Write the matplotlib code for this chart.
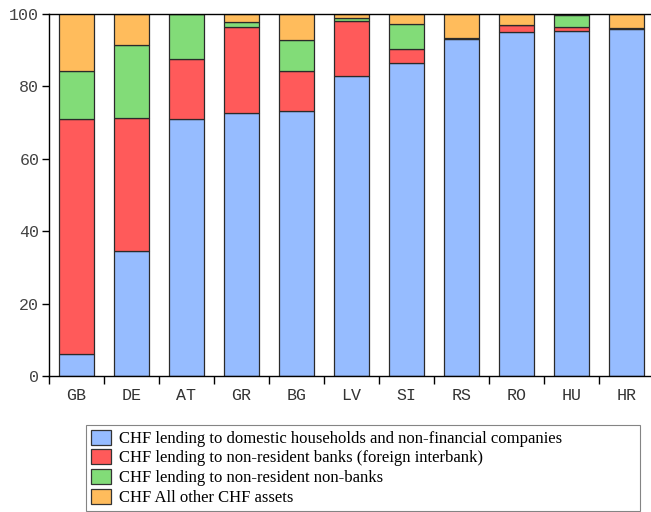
import matplotlib
matplotlib.use("Agg")
import matplotlib.pyplot as plt
import numpy as np
from matplotlib.patches import Patch

countries = ["GB", "DE", "AT", "GR", "BG", "LV", "SI", "RS", "RO", "HU", "HR"]
domestic = [6.1, 34.5, 71.0, 72.6, 73.2, 83.0, 86.6, 93.1, 95.0, 95.3, 95.9]
nonres_banks = [64.8, 36.8, 16.5, 23.9, 11.1, 15.2, 3.6, 0.2, 1.9, 1.2, 0.1]
nonres_nonbanks = [13.4, 20.1, 12.5, 1.3, 8.4, 0.8, 6.9, 0.1, 0.1, 3.1, 0.1]
other = [16.2, 8.6, 0.0, 2.2, 7.3, 1.0, 2.9, 6.6, 3.0, 0.4, 3.9]

labels = [
    "CHF lending to domestic households and non-financial companies",
    "CHF lending to non-resident banks (foreign interbank)",
    "CHF lending to non-resident non-banks",
    "CHF All other CHF assets",
]
colors = ["#96BCFF", "#FF5A5A", "#82DC78", "#FFBC5C"]

fig = plt.figure(figsize=(6.51, 5.12), dpi=100)
ax = fig.add_axes([49 / 651, 1 - 376 / 512, (651 - 49) / 651, (376 - 14) / 512])

x = np.arange(len(countries))
series = [domestic, nonres_banks, nonres_nonbanks, other]
bottom = np.zeros(len(countries))
for vals, c in zip(series, colors):
    v = np.array(vals)
    ax.bar(x, v, bottom=bottom, width=0.63, color=c, edgecolor="#2a2a2a", linewidth=0.9)
    bottom += v

ax.set_ylim(0, 100)
ax.set_xlim(-0.5, 10.45)
ax.set_yticks([0, 20, 40, 60, 80, 100])
ax.set_yticklabels(["0", "20", "40", "60", "80", "100"], family="Liberation Mono", fontsize=12, color="#444444")
ax.set_xticks(np.arange(-0.5, 10.0, 1.0))
ax.set_xticklabels([])
ax.set_xticks(x, minor=True)
ax.set_xticklabels(countries, minor=True, family="Liberation Mono", fontsize=12, color="#333333")
ax.tick_params(axis="x", which="minor", length=0, pad=9)
ax.tick_params(axis="x", which="major", length=6, width=1, direction="out")
ax.tick_params(axis="y", length=5, width=1, direction="out", pad=2)
ax.spines["right"].set_visible(False)
for s in ["left", "bottom", "top"]:
    ax.spines[s].set_linewidth(1.0)

handles = [Patch(facecolor=c, edgecolor="#333333", linewidth=0.9) for c in colors]
leg = fig.legend(handles, labels, loc="upper left",
                 bbox_to_anchor=(86 / 651, 1 - 425 / 512, (640 - 86) / 651, 0.0),
                 mode="expand",
                 frameon=True, fancybox=False, edgecolor="#666666",
                 prop={"family": "Liberation Serif", "size": 12},
                 handlelength=1.2, handleheight=1.0, handletextpad=0.5,
                 labelspacing=0.15, borderpad=0.28, borderaxespad=0)
leg.get_frame().set_linewidth(0.8)

fig.savefig("out.png", dpi=100)
